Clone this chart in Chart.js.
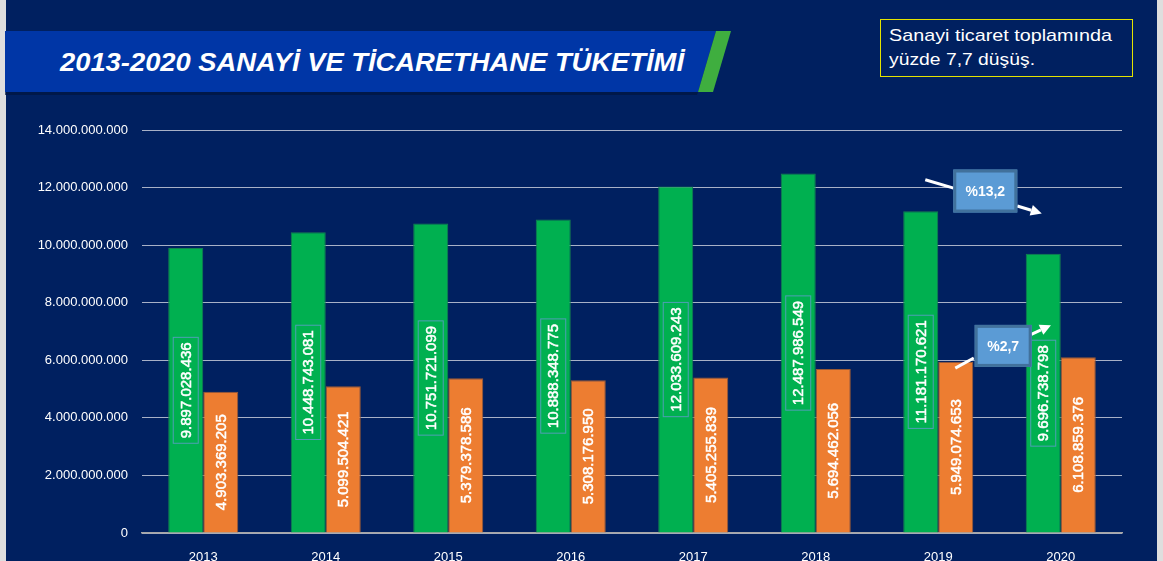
<!DOCTYPE html>
<html><head><meta charset="utf-8">
<script src="https://cdn.jsdelivr.net/npm/chart.js@4"></script>
<style>
html,body{margin:0;padding:0;background:#dedede;overflow:hidden;}
#wrap{position:relative;width:1163px;height:561px;overflow:hidden;background:#dedede;}
#bg{position:absolute;left:6px;top:0;width:1151px;height:561px;background:#002060;}
#bannerBlue{position:absolute;left:0;top:0;width:1163px;height:100px;background:#0036a6;
  clip-path:polygon(5px 31px,716px 31px,698px 92px,5px 92px);}
#bannerShadow{position:absolute;left:0;top:0;width:1163px;height:100px;background:#001540;
  clip-path:polygon(5px 92px,698px 92px,697px 95px,5px 95px);opacity:.7}
#bannerGreen{position:absolute;left:0;top:0;width:1163px;height:100px;background:#3fae3f;
  clip-path:polygon(716px 31px,731px 31px,713px 92px,698px 92px);}
#title{position:absolute;left:60px;top:44px;white-space:nowrap;color:#fff;font-family:"Liberation Sans",Arial,sans-serif;
  font-weight:bold;font-style:italic;font-size:26px;line-height:36px;transform-origin:0 50%;display:inline-block;}
#note{position:absolute;left:880px;top:19px;width:253px;height:58px;border:1px solid #e3e300;box-sizing:border-box;}
.nl{position:absolute;left:8px;white-space:nowrap;color:#fff;font-family:"Liberation Sans",Arial,sans-serif;font-size:17px;line-height:20px;transform-origin:0 50%;display:inline-block;}
canvas{position:absolute;left:0;top:0;}
</style></head>
<body>
<div id="wrap">
  <div id="bg"></div>
  <div id="bannerShadow"></div>
  <div id="bannerBlue"></div>
  <div id="bannerGreen"></div>
  <div id="title">2013-2020 SANAYİ VE TİCARETHANE TÜKETİMİ</div>
  <div id="note"><span class="nl" id="n1" style="top:6px">Sanayi ticaret toplamında</span><span class="nl" id="n2" style="top:30px">yüzde 7,7 düşüş.</span></div>
  <canvas id="c" width="1163" height="561"></canvas>
</div>
<script>
// ---- data ----
const years = ["2013","2014","2015","2016","2017","2018","2019","2020"];
const sanayi = [9897028436, 10448743081, 10751721099, 10888348775, 12033609243, 12487986549, 11181170621, 9696738798];
const ticarethane = [4903369205, 5099504421, 5379378586, 5308176950, 5405255839, 5694462056, 5949074653, 6108859376];
const yTicks = [0, 2000000000, 4000000000, 6000000000, 8000000000, 10000000000, 12000000000, 14000000000];
const changeLabels = ["%13,2", "%2,7"];

function fmt(n){ return String(Math.round(n)).replace(/\B(?=(\d{3})+(?!\d))/g, "."); }

// fit text widths
function fit(id, w){ const el=document.getElementById(id); const cw=el.getBoundingClientRect().width; el.style.transform='scaleX('+(w/cw)+')'; }
fit('title', 624); fit('n1', 223); fit('n2', 146);

Chart.defaults.font.family = '"Liberation Sans", Arial, sans-serif';
Chart.defaults.color = '#ffffff';

const valueLabels = {
  id: 'valueLabels',
  afterDatasetsDraw(chart){
    const ctx = chart.ctx;
    chart.data.datasets.forEach((ds, di) => {
      const meta = chart.getDatasetMeta(di);
      meta.data.forEach((bar, i) => {
        const p = bar.getProps(['x','y','base'], true);
        const cy = (p.y + p.base) / 2;
        const txt = fmt(ds.data[i]);
        ctx.save();
        ctx.translate(p.x, cy);
        ctx.rotate(-Math.PI/2);
        ctx.font = '15px "Liberation Sans", Arial, sans-serif';
        ctx.textAlign = 'center';
        ctx.textBaseline = 'middle';
        ctx.fillStyle = '#ffffff';
        ctx.strokeStyle = '#ffffff';
        ctx.lineWidth = 0.5;
        ctx.fillText(txt, 0, 1);
        ctx.strokeText(txt, 0, 1);
        if (di === 0) {
          const w = ctx.measureText(txt).width;
          ctx.strokeStyle = '#4f9fb5';
          ctx.lineWidth = 1;
          ctx.strokeRect(-w/2 - 5, -12.5, w + 10, 25);
        }
        ctx.restore();
      });
    });
  }
};

// callouts anchored on the scales: [category index, fraction of category step, value]
const callouts = [
  { label: changeLabels[0], box: [6, 0.384, 11.88e9], bw: 64, bh: 43,
    line: [[6, -0.106, 12.27e9], [6, 0.125, 11.98e9]],
    arrow: [[6, 0.645, 11.36e9], [6, 0.845, 11.1e9]] },
  { label: changeLabels[1], box: [6, 0.53, 6.5e9], bw: 57, bh: 42,
    line: [[6, 0.139, 5.73e9], [6, 0.29, 6.08e9]],
    arrow: [[6, 0.76, 6.9e9], [6, 0.92, 7.22e9]] }
];

const calloutPlugin = {
  id: 'callouts',
  afterDraw(chart){
    const ctx = chart.ctx, xs = chart.scales.x, ys = chart.scales.y;
    const step = xs.getPixelForValue(1) - xs.getPixelForValue(0);
    const P = a => ({ x: xs.getPixelForValue(a[0]) + a[1]*step, y: ys.getPixelForValue(a[2]) });
    callouts.forEach(c => {
      ctx.save();
      ctx.strokeStyle = '#ffffff'; ctx.fillStyle = '#ffffff';
      ctx.lineWidth = 3; ctx.lineCap = 'butt';
      const l0 = P(c.line[0]), l1 = P(c.line[1]);
      ctx.beginPath(); ctx.moveTo(l0.x, l0.y); ctx.lineTo(l1.x, l1.y); ctx.stroke();
      const a0 = P(c.arrow[0]), a1 = P(c.arrow[1]);
      const ang = Math.atan2(a1.y - a0.y, a1.x - a0.x);
      const hl = 11, hw = 5.5;
      const bx = a1.x - hl*Math.cos(ang), by = a1.y - hl*Math.sin(ang);
      ctx.beginPath(); ctx.moveTo(a0.x, a0.y); ctx.lineTo(bx, by); ctx.stroke();
      ctx.beginPath();
      ctx.moveTo(a1.x, a1.y);
      ctx.lineTo(bx + hw*Math.sin(ang), by - hw*Math.cos(ang));
      ctx.lineTo(bx - hw*Math.sin(ang), by + hw*Math.cos(ang));
      ctx.closePath(); ctx.fill();
      const b = P(c.box);
      ctx.fillStyle = '#5b9bd5';
      ctx.fillRect(b.x - c.bw/2, b.y - c.bh/2, c.bw, c.bh);
      ctx.strokeStyle = '#41719c'; ctx.lineWidth = 3;
      ctx.strokeRect(b.x - c.bw/2 + 1.5, b.y - c.bh/2 + 1.5, c.bw - 3, c.bh - 3);
      ctx.fillStyle = '#ffffff';
      ctx.font = 'bold 14px "Liberation Sans", Arial, sans-serif';
      ctx.textAlign = 'center'; ctx.textBaseline = 'middle';
      ctx.fillText(c.label, b.x, b.y + 1);
      ctx.restore();
    });
  }
};

new Chart(document.getElementById('c'), {
  type: 'bar',
  data: {
    labels: years,
    datasets: [
      { label: 'Sanayi', data: sanayi, backgroundColor: '#00b050', borderColor: '#14804f', borderWidth: 1 },
      { label: 'Ticarethane', data: ticarethane, backgroundColor: '#ed7d31', borderColor: '#9a5a35', borderWidth: 1 }
    ]
  },
  options: {
    responsive: false,
    animation: false,
    events: [],
    layout: { padding: { top: 130, right: 41, left: 0, bottom: 0 } },
    datasets: { bar: { categoryPercentage: 0.572, barPercentage: 1.0 } },
    plugins: { legend: { display: false }, tooltip: { enabled: false }, title: { display: false } },
    scales: {
      x: {
        grid: { display: false },
        border: { display: true, color: '#a6a6a6', width: 1.5 },
        ticks: { color: '#ffffff', font: { size: 13 }, padding: 9 },
        afterFit(s){ s.height = 28; }
      },
      y: {
        min: 0, max: 14000000000,
        afterBuildTicks(s){ s.ticks = yTicks.map(v => ({ value: v })); },
        grid: { color: 'rgba(210,214,225,0.8)', lineWidth: 1, drawTicks: false },
        border: { display: false },
        ticks: { color: '#ffffff', font: { size: 13 }, padding: 14, callback: v => fmt(v) },
        afterFit(s){ s.width = 142; }
      }
    }
  },
  plugins: [valueLabels, calloutPlugin]
});
</script>
</body></html>
